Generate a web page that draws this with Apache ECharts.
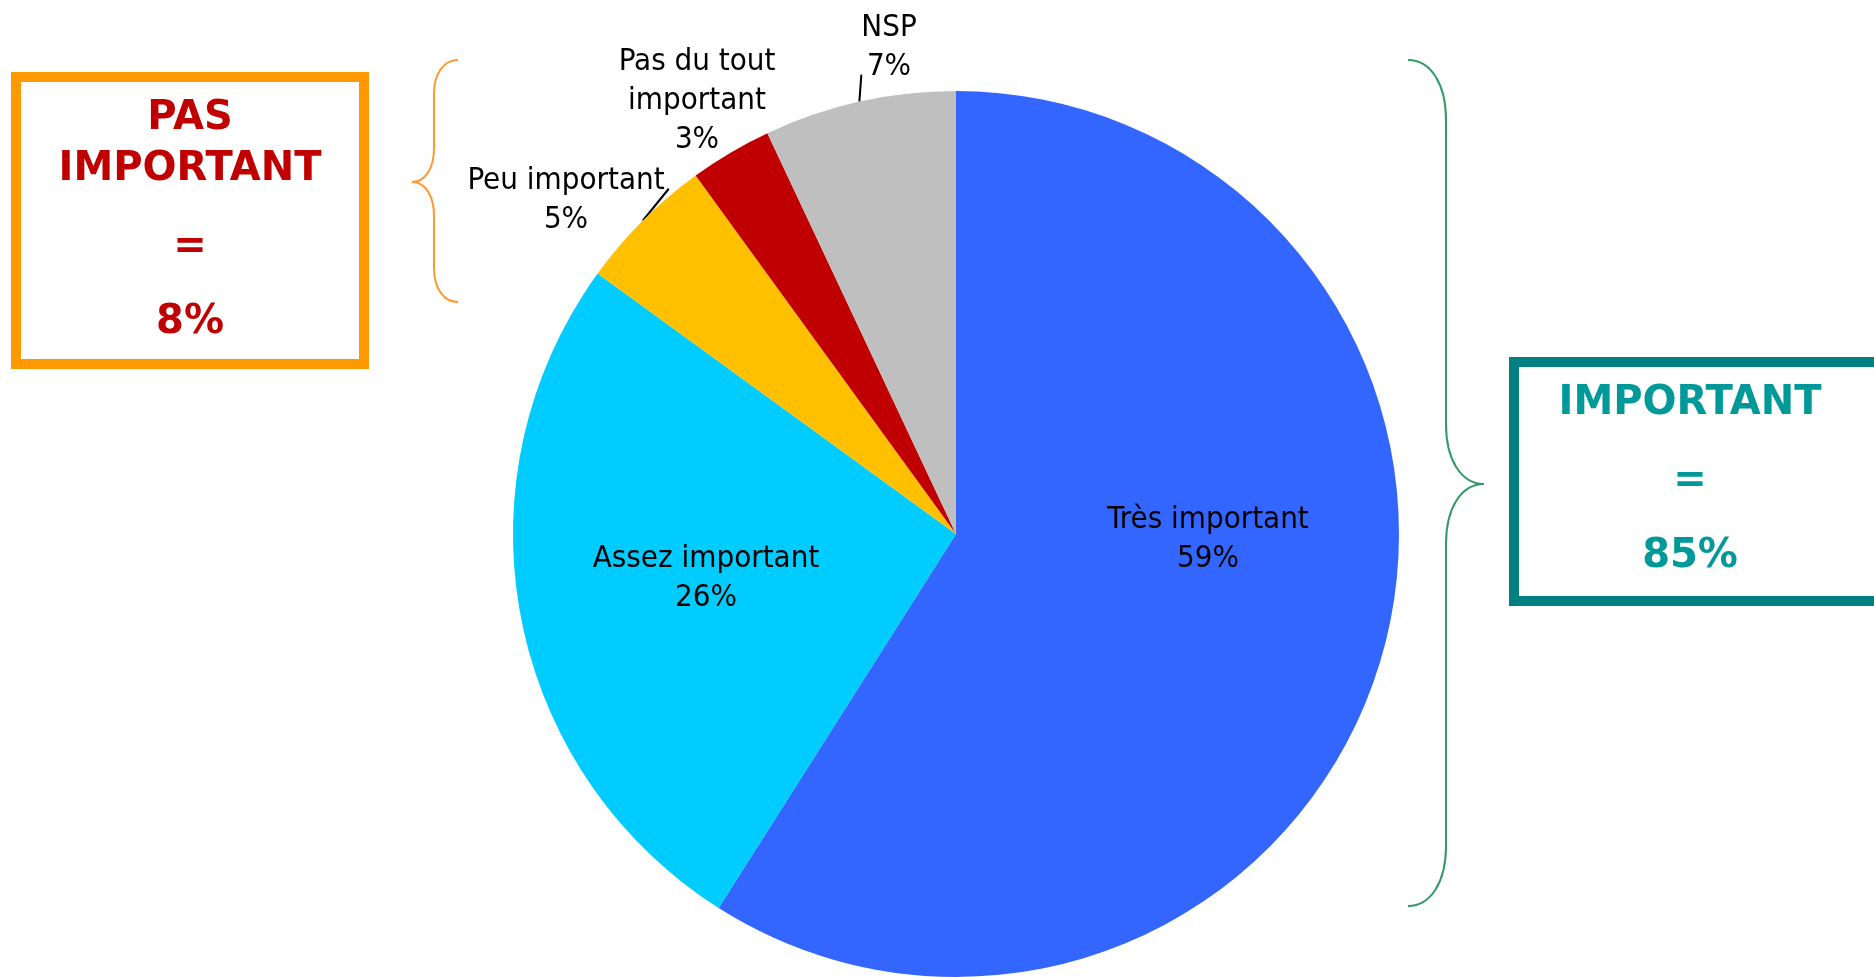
<!DOCTYPE html>
<html>
<head>
<meta charset="utf-8">
<script src="https://cdn.jsdelivr.net/npm/echarts@6/dist/echarts.min.js"></script>
<style>
  html, body { margin: 0; padding: 0; background: #fff; }
  #chart { width: 1874px; height: 977px; }
</style>
</head>
<body>
<div id="chart"></div>
<script>
const categories = ['Très important', 'Assez important', 'Peu important', 'Pas du tout\nimportant', 'NSP'];
const values = [59, 26, 5, 3, 7];
const sliceColors = ['#3366FF', '#00CCFF', '#FFC000', '#C00000', '#BFBFBF'];

const notImportantTotal = '8%';
const importantTotal = '85%';

// où poser chaque étiquette (centre du bloc de texte)
const labelPos = [[1208, 539], [706, 578], [566, 200], [697, 101], [889, 47]];
// petit trait de rappel : décalage depuis le bord de la part (null = pas de trait)
const lineOffset = [null, null, [26, -32], null, [2, -27]];

const labelFont = '"DejaVu Sans Condensed", "DejaVu Sans", sans-serif';
const boxFont = '"DejaVu Sans", Verdana, sans-serif';

// accolade : xEnd = bouts, xMid = trait vertical, xTip = pointe, c = rayon des courbes
function brace(xEnd, xMid, xTip, yTop, yTip, yBot, c, color) {
  const st = { stroke: color, lineWidth: 2, fill: null };
  const dx = xMid - xEnd, dt = xTip - xMid;
  const seg = (x1, y1, x2, y2, c1x, c1y, c2x, c2y) => ({
    type: 'bezierCurve', silent: true,
    shape: { x1, y1, x2, y2, cpx1: c1x, cpy1: c1y, cpx2: c2x, cpy2: c2y }, style: st
  });
  const ln = (y1, y2) => ({ type: 'line', silent: true, shape: { x1: xMid, y1, x2: xMid, y2 }, style: st });
  return [
    seg(xEnd, yTop, xMid, yTop + c, xEnd + dx * 0.6, yTop, xMid, yTop + c * 0.4),
    ln(yTop + c, yTip - c),
    seg(xMid, yTip - c, xTip, yTip, xMid, yTip - c * 0.4, xMid + dt * 0.4, yTip),
    seg(xTip, yTip, xMid, yTip + c, xMid + dt * 0.4, yTip, xMid, yTip + c * 0.4),
    ln(yTip + c, yBot - c),
    seg(xMid, yBot - c, xEnd, yBot, xMid, yBot - c * 0.4, xEnd + dx * 0.6, yBot)
  ];
}

const chart = echarts.init(document.getElementById('chart'), null, { renderer: 'canvas' });

const pieData = categories.map((name, i) => ({
  name: name,
  value: values[i],
  itemStyle: { color: sliceColors[i] },
  labelLine: { show: lineOffset[i] !== null }
}));

const boxText = (x, y, text, color) => ({
  type: 'text', x, y, silent: true,
  style: { text, fill: color, font: 'bold 40px ' + boxFont, textAlign: 'center', textVerticalAlign: 'middle' }
});

chart.setOption({
  animation: false,
  series: [{
    type: 'pie',
    center: [956, 534],
    radius: 443,
    startAngle: 90,
    clockwise: true,
    silent: true,
    data: pieData,
    label: {
      show: true,
      formatter: '{b}\n{c}%',
      color: '#000',
      fontFamily: labelFont,
      fontSize: 31,
      lineHeight: 39,
      align: 'center'
    },
    labelLine: { show: true, length: 10, length2: 0, lineStyle: { color: '#000', width: 2 } },
    labelLayout: function (params) {
      const i = params.dataIndex;
      const p = labelPos[i];
      const res = { x: p[0], y: p[1], align: 'center', verticalAlign: 'middle' };
      const off = lineOffset[i];
      if (off && params.labelLinePoints) {
        const s = params.labelLinePoints[0];
        res.labelLinePoints = [s, [s[0] + off[0] / 2, s[1] + off[1] / 2], [s[0] + off[0], s[1] + off[1]]];
      }
      return res;
    }
  }],
  graphic: [
    ...brace(458, 434, 412, 60, 182, 302, 34, '#FF9933'),
    ...brace(1408, 1446, 1484, 60, 484, 906, 60, '#339966'),
    // cadre PAS IMPORTANT
    {
      type: 'rect', silent: true,
      shape: { x: 16, y: 77, width: 348, height: 287 },
      style: { fill: '#fff', stroke: '#FF9900', lineWidth: 10 }
    },
    boxText(190, 119, 'PAS', '#C00000'),
    boxText(190, 170, 'IMPORTANT', '#C00000'),
    boxText(190, 248, '=', '#C00000'),
    boxText(190, 323, notImportantTotal, '#C00000'),
    // cadre IMPORTANT
    {
      type: 'rect', silent: true,
      shape: { x: 1514, y: 362, width: 365, height: 239 },
      style: { fill: '#fff', stroke: '#008080', lineWidth: 10 }
    },
    boxText(1690, 404, 'IMPORTANT', '#009999'),
    boxText(1690, 482, '=', '#009999'),
    boxText(1690, 557, importantTotal, '#009999')
  ]
});
</script>
</body>
</html>
